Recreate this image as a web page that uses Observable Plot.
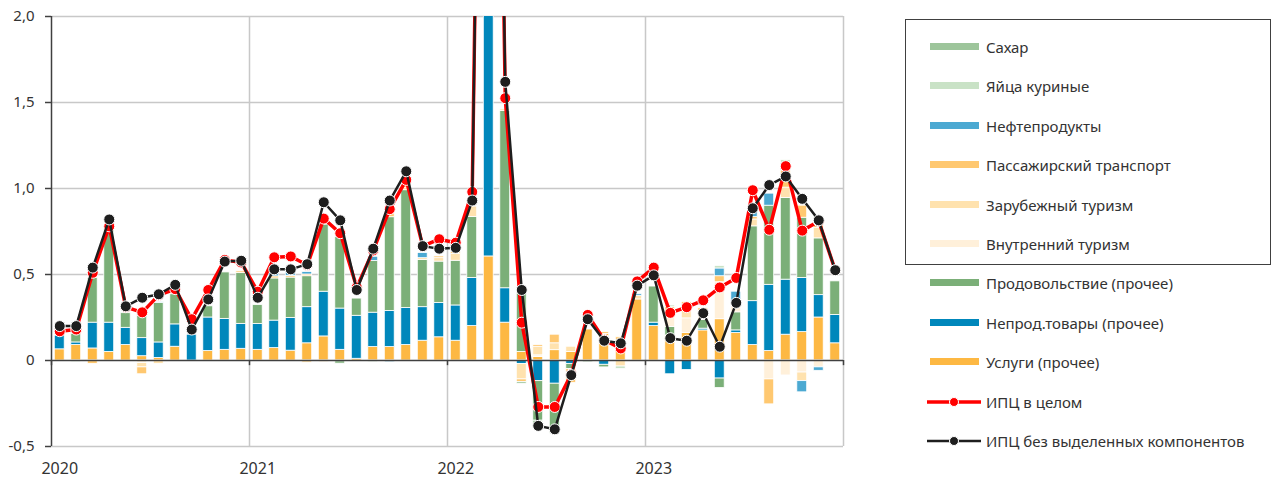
<!DOCTYPE html>
<html><head><meta charset="utf-8">
<script src="https://cdn.jsdelivr.net/npm/d3@7"></script>
<script src="https://cdn.jsdelivr.net/npm/@observablehq/plot@0.6"></script>
<style>
body{margin:0;background:#fff;font-family:"Noto Sans",sans-serif;}
#wrap{position:relative;width:1272px;height:479px;overflow:hidden;}
#chart{position:absolute;left:0;top:0;}
#box{position:absolute;left:905px;top:19px;width:364px;height:244px;border:1.5px solid #404040;}
.item{position:absolute;height:22px;line-height:22px;font-size:15px;color:#333;white-space:nowrap;}
.sw{position:absolute;width:49px;height:7px;top:7px;}
</style></head><body>
<div id="wrap"><div id="chart"></div><div id="box"></div><div id="legend"></div></div>
<script>
const years = ["2020","2021","2022","2023"];
const seriesNames = ["Услуги (прочее)","Непрод.товары (прочее)","Продовольствие (прочее)","Внутренний туризм","Зарубежный туризм","Пассажирский транспорт","Нефтепродукты","Яйца куриные","Сахар"];
const seriesColors = ["#fdb843","#0087bb","#7baf78","#fff0da","#ffe2ae","#ffc870","#4ba9d2","#c9e2c6","#9dc59b"];
const legendOrder = ["Сахар","Яйца куриные","Нефтепродукты","Пассажирский транспорт","Зарубежный туризм","Внутренний туризм","Продовольствие (прочее)","Непрод.товары (прочее)","Услуги (прочее)"];

const uslugi = [0.065,0.09,0.07,0.05,0.09,0.025,0.015,0.08, 0,0.055,0.062,0.068, 0.062,0.072,0.057,0.10,0.14,0.062,0.01,0.078,0.078,0.09,0.115,0.135, 0.115,0.2,0.605,0.22,0.05,0.02,0.06,0.05, 0.18,0.155,0.12,0.355, 0.2,0.145,0.16,0.175,0.24,0.16,0.09,0.055,0.15,0.165,0.25,0.1];
const neprod = [0.08,0.015,0.15,0.17,0.10,0.105,0.09,0.13, 0.15,0.195,0.18,0.145, 0.15,0.16,0.19,0.21,0.26,0.24,0.25,0.2,0.21,0.215,0.195,0.2, 0.205,0.28,4.0,0.2,-0.02,-0.12,-0.135,-0.02, 0,-0.025,0,0, 0.02,-0.08,-0.055,0.01,-0.105,0.015,0.255,0.385,0.32,0.315,0.13,0.165];
const prod = [0,0.05,0.26,0.545,0.085,0.13,0.23,0.175, 0,0.065,0.27,0.295, 0.11,0.245,0.235,0.18,0.39,0.415,0.10,0.30,0.545,0.685,0.275,0.24, 0.26,0.355,1.5,1.03,0.34,-0.23,-0.28,-0.03, -0.01,-0.015,0,0, 0.21,0.05,0,0.05,-0.055,0.105,0.435,0.46,0.475,0.35,0.33,0.195];
const vnutr = [0,0,0,0,0,-0.015,0,0, 0,0,0,0, 0,0,0,0,0,0,0,0,0,0,0,0, 0,0,0,0,0,0.01,0,0, 0,0,0,0, 0,0.085,0.085,0.05,0.215,0.03,0,-0.11,-0.087,-0.07,-0.04,0];
const zarub = [0,0,0,0,0,-0.025,-0.02,0, 0,0,0,0, 0,0,0,-0.015,-0.01,0,0,0,0,0.015,0.01,0.02, 0.04,0.06,0.1,0.01,-0.09,0.05,0.04,0.03, 0,0,-0.035,0.02, 0,0,0.08,0,0,0.03,0.04,0,0.06,-0.05,0.06,0];
const passTr = [0,0,-0.02,0,0,-0.04,0,0, 0,0,0,0.01, 0,0.012,0.01,0.01,0,0,0,0,0.02,0.015,0,0.01, 0.01,0,0.2,0,-0.015,0.01,0.05,-0.08, 0,0.01,0.015,0, 0,0.03,0.015,0.02,0.035,0,0.015,-0.145,0.1,0.07,0.03,0];
const neft = [0.005,0.008,0,0,0,0.015,0.005,0, 0,0,0,0, 0,0.02,0.025,0.015,0,0,0,0.025,-0.01,0,0.03,0, 0,0,0.1,0,0,0,0,0, 0,0,0,0.01, 0,0,0,0,0.045,0.06,0.04,0.07,0.045,-0.065,-0.02,0];
const yaic = [0,-0.01,0,0,0,0,0,0, 0,0,0,0, 0,0.01,0,0,0,0,0,-0.01,0,0,0,0, 0,0,0,0,0,0,0,0, 0,0,-0.015,0, 0,0.01,0,0,0.015,0,0,0,0.015,0,0.04,0];
const sahar = [0,0,0,0,0,0,0,0, 0,0,0,0, 0,0,0,0,0,-0.02,0,0,0,0,0,0, 0,0,0.8,0,-0.01,-0.045,-0.01,0, 0,0,0,0, 0,0,0,0,0,0,0,0,0,0,0,0];
const cpi = [0.17,0.18,0.51,0.78,0.31,0.28,0.38,0.415, 0.24,0.41,0.585,0.57, 0.40,0.60,0.605,0.555,0.825,0.74,0.425,0.64,0.88,1.05,0.665,0.705, 0.685,0.98,7.6,1.525,0.22,-0.27,-0.27,-0.08, 0.265,0.12,0.07,0.46, 0.54,0.277,0.31,0.35,0.425,0.48,0.99,0.76,1.13,0.755,0.81,0.525];
const core = [0.20,0.20,0.54,0.82,0.315,0.365,0.385,0.44, 0.18,0.355,0.575,0.58, 0.365,0.53,0.53,0.56,0.92,0.815,0.41,0.65,0.93,1.10,0.665,0.65, 0.655,0.93,7.5,1.62,0.41,-0.38,-0.40,-0.085, 0.24,0.115,0.10,0.435, 0.495,0.13,0.115,0.275,0.08,0.335,0.885,1.02,1.07,0.94,0.815,0.525];
const lineNames = ["ИПЦ в целом","ИПЦ без выделенных компонентов"];

const seriesValues = [uslugi, neprod, prod, vnutr, zarub, passTr, neft, yaic, sahar];
const rows = [];
seriesValues.forEach((arr, k) => arr.forEach((v, i) => { if (v !== 0) rows.push({i, i2: i + 1, v, s: seriesNames[k]}); }));
const cpiRows = cpi.map((v, i) => ({x: i + 0.5, v}));
const coreRows = core.map((v, i) => ({x: i + 0.5, v}));

const fmt = d => d === 0 ? "0" : d3.format(".1f")(d).replace(".", ",").replace("−", "-");

const chart = Plot.plot({
  width: 860, height: 479,
  marginLeft: 51, marginRight: 17, marginTop: 16, marginBottom: 33,
  x: {domain: [0, 48], axis: null},
  y: {domain: [-0.5, 2], axis: null},
  color: {domain: seriesNames, range: seriesColors},
  style: {fontFamily: "Noto Sans", fontSize: "15px", color: "#333", background: "white"},
  marks: [
    Plot.ruleY([0.5, 1, 1.5, 2, -0.5], {stroke: "#c8c8c8", strokeWidth: 1.5}),
    Plot.ruleX([12, 24, 36, 48], {stroke: "#c8c8c8", strokeWidth: 1.5}),
    Plot.rectY(rows, Plot.stackY({x1: "i", x2: "i2", y: "v", fill: "s", order: seriesNames, insetLeft: 3.3, insetRight: 3.3, stroke: "white", strokeWidth: 0.8, clip: true})),
    Plot.ruleY([0], {stroke: "#404040", strokeWidth: 1.5}),
    Plot.ruleX([0], {stroke: "#404040", strokeWidth: 1.5}),
    Plot.ruleX([0, 12, 24, 36, 48], {y1: 0, y2: -0.03, stroke: "#404040", strokeWidth: 1.5}),
    Plot.line(cpiRows, {x: "x", y: "v", stroke: "#ff0000", strokeWidth: 3.5, clip: true}),
    Plot.dot(cpiRows, {x: "x", y: "v", r: 5.5, fill: "#ff0000", stroke: "white", strokeWidth: 1, clip: true}),
    Plot.line(coreRows, {x: "x", y: "v", stroke: "#1e1e1e", strokeWidth: 2.5, clip: true}),
    Plot.dot(coreRows, {x: "x", y: "v", r: 5.5, fill: "#1e1e1e", stroke: "white", strokeWidth: 1, clip: true}),
    Plot.axisY({ticks: [-0.5, 0, 0.5, 1, 1.5, 2], tickFormat: fmt, tickSize: 6, tickPadding: 11, anchor: "left", label: null, fontSize: 15, stroke: "#404040", strokeWidth: 1.5}),
    Plot.axisX({ticks: [0.5, 12.5, 24.5, 36.5], tickFormat: d => years[Math.floor(d / 12)], tickSize: 0, tickPadding: 16, label: null, fontSize: 16})
  ]
});
document.getElementById("chart").appendChild(chart);

// legend
const legend = document.getElementById("legend");
const rowY = i => 47 + i * 39.4;
legendOrder.forEach((name, i) => {
  const color = seriesColors[seriesNames.indexOf(name)];
  const d = document.createElement("div");
  d.className = "item";
  d.style.left = "930px"; d.style.top = (rowY(i) - 11) + "px";
  d.innerHTML = `<span class="sw" style="left:0;background:${color}"></span><span style="position:absolute;left:56px">${name}</span>`;
  legend.appendChild(d);
});
const lineStyles = [{c: "#ff0000", w: 3.5}, {c: "#1e1e1e", w: 2.5}];
lineNames.forEach((name, j) => {
  const i = legendOrder.length + j;
  const d = document.createElement("div");
  d.className = "item";
  d.style.left = "926px"; d.style.top = (rowY(i) - 11) + "px";
  d.innerHTML = `<svg width="58" height="22" style="position:absolute;left:0;top:0"><line x1="1" x2="55" y1="11" y2="11" stroke="${lineStyles[j].c}" stroke-width="${lineStyles[j].w}"/><circle cx="28" cy="11" r="4.5" fill="${lineStyles[j].c}" stroke="white" stroke-width="1"/></svg><span style="position:absolute;left:60px">${name}</span>`;
  legend.appendChild(d);
});
</script>
</body></html>
